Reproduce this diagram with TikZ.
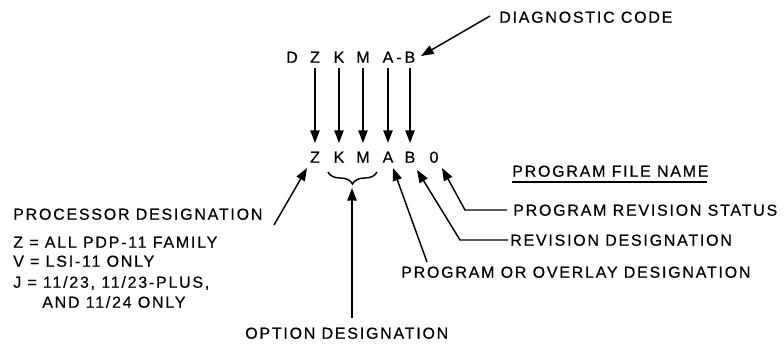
\documentclass[tikz,border=0pt]{standalone}
\usepackage{fontspec}
\setmainfont{Liberation Sans}[LetterSpace=11,FakeBold=0.4]
\usetikzlibrary{arrows.meta,decorations.pathreplacing,calc}
\begin{document}
\begin{tikzpicture}[x=0.75pt,y=-0.75pt,
  lbl/.style={inner sep=0pt, text height=8.6pt, text depth=0pt, font=\fontsize{12}{14}\selectfont},
  txt/.style={lbl, anchor=west},
  arr/.style={line width=1.1pt, -{Triangle[length=9.5pt,width=7pt]}},
  ln/.style={line width=1.1pt}]
\useasboundingbox (0,0) rectangle (784,343);
% top row
\node[lbl] (tD) at (292,57) {D};
\node[lbl] (tZ) at (315,57) {Z};
\node[lbl] (tK) at (339,57) {K};
\node[lbl] (tM) at (363,57) {M};
\node[lbl] (tA) at (388,57) {A};
\node[lbl] (th) at (399,57) {-};
\node[lbl] (tB) at (410,57) {B};
% bottom row
\node[lbl] (bZ) at (315,157) {Z};
\node[lbl] (bK) at (339,157) {K};
\node[lbl] (bM) at (363,157) {M};
\node[lbl] (bA) at (388,157) {A};
\node[lbl] (bB) at (410,157) {B};
\node[lbl] (b0) at (434,157) {0};
\foreach \n in {Z,K,M,A,B}
  \draw[arr, shorten <=4pt, shorten >=6pt] (t\n.south) -- (b\n.north);
% diagnostic code
\node[txt] (dc) at (499,17) {DIAGNOSTIC CODE};
\draw[arr] ($(dc.west)+(-9,-1)$) -- ($(tB.center)+(11,-1)$);
% processor designation
\node[txt] (pd) at (13,214) {PROCESSOR DESIGNATION};
\node[txt] (p1) at (13,242) {Z = ALL PDP-11 FAMILY};
\node[txt] (p2) at (13,261) {V = LSI-11 ONLY};
\node[txt] (p3) at (13,282) {J = 11/23, 11/23-PLUS,};
\node[txt] (p4) at (42,302) {AND 11/24 ONLY};
\coordinate (pa) at (274,225);
\draw[arr] (pa) -- ($(bZ.center)+(-8,11)$);
% option designation
\draw[ln, decorate, decoration={brace, mirror, amplitude=9pt}]
  ($(bK.center)+(-11,15)$) -- ($(bM.center)+(14,15)$);
\coordinate (bt) at (352,188);
\node[txt] (od) at (245,333) {OPTION DESIGNATION};
\draw[arr, shorten <=7pt] (od.north -| bt) -- (bt);
% program file name
\node[txt] (pfn) at (512,171) {PROGRAM FILE NAME};
\draw[ln] ($(pfn.south west)+(0,5)$) -- ($(pfn.south east)+(-2,5)$);
\node[txt] (prs) at (513,210) {PROGRAM REVISION STATUS};
\draw[arr] ($(prs.west)+(-6,0)$) -- ++(-42,0) -- ($(b0.center)+(8,11)$);
\node[txt] (rd) at (510,240) {REVISION DESIGNATION};
\draw[arr] ($(rd.west)+(-2,0)$) -- ++(-48,0) -- ($(bB.center)+(7,13)$);
\node[txt] (po) at (401,272) {PROGRAM OR OVERLAY DESIGNATION};
\draw[arr] ($(po.north west)+(26,-4)$) -- ($(bA.center)+(5,11)$);
\end{tikzpicture}
\end{document}
